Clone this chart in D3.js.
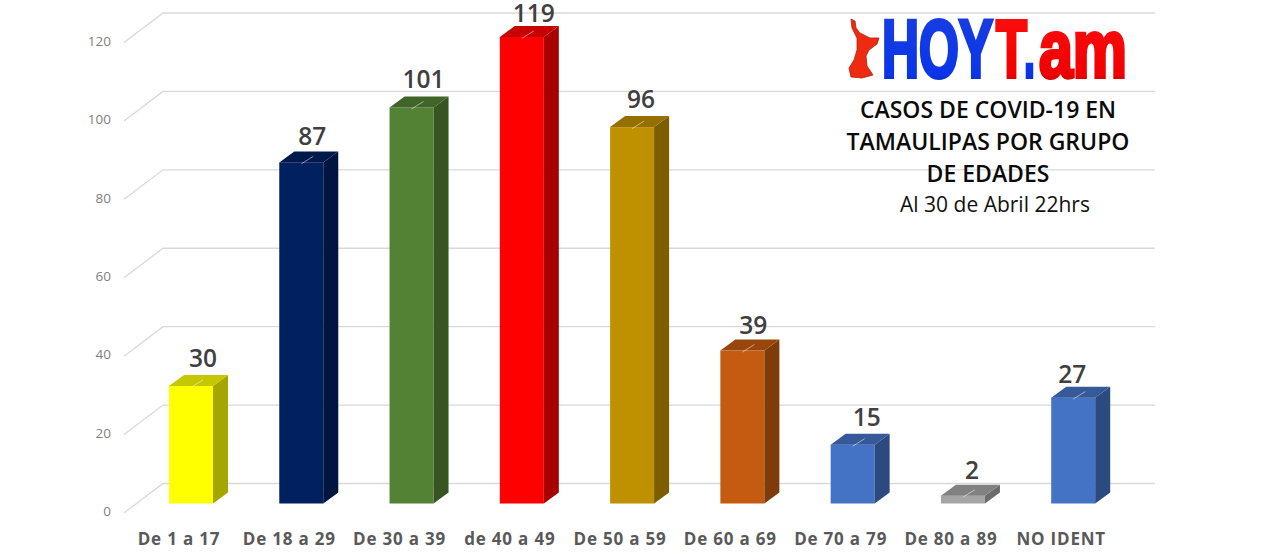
<!DOCTYPE html>
<html><head><meta charset="utf-8">
<script src="https://cdn.jsdelivr.net/npm/d3@7"></script>
<style>html,body{margin:0;padding:0;background:#fff;overflow:hidden}svg{display:block}</style>
</head><body><svg id="c" width="1280" height="554"></svg>
<script>
const categories=["De 1 a 17","De 18 a 29","De 30 a 39","de 40 a 49","De 50 a 59","De 60 a 69","De 70 a 79","De 80 a 89","NO IDENT"];
const values=[30,87,101,119,96,39,15,2,27];
const frontColors=["#ffff00","#002060","#548235","#ff0000","#bf9000","#c55a11","#4472c4","#a5a5a5","#4472c4"];
const yTicks=[0,20,40,60,80,100,120];
const titleLines=["CASOS DE COVID-19 EN","TAMAULIPAS POR GRUPO","DE EDADES"];
const subtitle="Al 30 de Abril 22hrs";

const svg=d3.select("#c");
const font="'Open Sans',sans-serif";
const y=d3.scaleLinear().domain([0,120]).range([503.5,33]);
const x=d3.scalePoint().domain(categories).range([191,1073.2]);
const barW=44, dx=15, dy=-11, wallDy=-20;

// back wall gridlines and floor diagonals
const grid=svg.append("g").attr("stroke","#d9d9d9").attr("stroke-width",1.3).attr("fill","none");
yTicks.forEach(t=>{
  const w=y(t)+wallDy;
  grid.append("path").attr("d",`M124,${w+29.5}L163,${w}L1155,${w}`);
});

// y axis
const axis=svg.append("g").attr("transform","translate(111,8)")
  .call(d3.axisLeft(y).tickValues(yTicks).tickSize(0).tickPadding(0));
axis.select(".domain").remove();
axis.selectAll("text").attr("font-family",font).attr("font-size",13.5).attr("fill","#7f7f7f");

// bars
const bars=svg.append("g").selectAll("g").data(values).join("g");
const shade=(c,k)=>d3.rgb(c).darker(k).formatHex();
bars.each(function(v,i){
  const g=d3.select(this), l=x(categories[i])-barW/2, r=l+barW, t=y(v), b=y(0), c=frontColors[i];
  g.append("rect").attr("x",l).attr("y",t).attr("width",barW).attr("height",b-t).attr("fill",c);
  g.append("path").attr("d",`M${r},${b}L${r+dx},${b+dy}L${r+dx},${t+dy}L${r},${t}Z`).attr("fill",shade(c,1.2));
  g.append("path").attr("d",`M${l},${t}L${l+dx},${t+dy}L${r+dx},${t+dy}L${r},${t}Z`).attr("fill",shade(c,0.7));
  g.append("line").attr("x1",l+barW/2).attr("y1",t+1.5).attr("x2",l+barW/2+12).attr("y2",t-6)
    .attr("stroke","#fff").attr("stroke-opacity",0.5).attr("stroke-width",1);
});

// value labels: placed by hand in the original, so a small nudge for the ones that sit off the common spot
const labelNudge={27:[-13,4],39:[-1,2],15:[2,0],119:[0,4],87:[-1,2],96:[-3,0],2:[-3,2]};
svg.append("g").selectAll("text").data(values).join("text")
  .attr("x",(v,i)=>x(categories[i])+12+(labelNudge[v]?labelNudge[v][0]:0))
  .attr("y",v=>y(v)-19+(labelNudge[v]?labelNudge[v][1]:0))
  .attr("text-anchor","middle").attr("font-family",font).attr("font-size",24.5).attr("font-weight",600)
  .attr("fill","#404040").text(v=>v);

// category labels
svg.append("g").selectAll("text").data(categories).join("text")
  .attr("x",c=>x(c)-12).attr("y",544.5).attr("text-anchor","middle")
  .attr("font-family",font).attr("font-size",17).attr("font-weight",700).attr("letter-spacing",0.8)
  .attr("fill","#595959").text(c=>c);

// logo
const defs=svg.append("defs");
const grad=(id,top,mid,bot)=>{const g=defs.append("linearGradient").attr("id",id).attr("x1",0).attr("x2",0).attr("y1",0).attr("y2",1);
  g.append("stop").attr("offset","0").attr("stop-color",top);
  g.append("stop").attr("offset","0.78").attr("stop-color",mid);
  g.append("stop").attr("offset","1").attr("stop-color",bot);};
grad("gb","#1a3fe0","#0a35e8","#0a1f90");
grad("gr","#ff1010","#f00000","#900000");
svg.append("path").attr("fill","#ee2a10").attr("stroke","#b02010").attr("stroke-width",0.8)
  .attr("d","M851,19L855,21L856,28L860,33L870,38L879,38L877,44L869,50L866,56L867,66L873,75L862,78L851,77L849,68L854,60L857,50L857,38L852,28Z");
const logo=svg.append("text").attr("y",77).attr("font-size",81)
  .attr("font-family","'Liberation Sans Narrow','Liberation Sans',sans-serif").attr("font-weight",700);
const logoPart=(txt,x0,w,fill)=>logo.append("tspan").attr("x",x0)
  .attr("textLength",w).attr("lengthAdjust","spacingAndGlyphs").attr("fill",`url(#${fill})`)
  .attr("stroke",`url(#${fill})`).attr("stroke-width",4).attr("paint-order","stroke").text(txt);
logoPart("HOY",882,111,"gb");
logoPart("T",996,31,"gr");
logoPart(".",1024,11,"gb");
logoPart("am",1039,88,"gr");

// title
svg.append("g").selectAll("text").data(titleLines).join("text")
  .attr("x",988).attr("y",(d,i)=>118+i*32).attr("text-anchor","middle")
  .attr("font-family",font).attr("font-size",23).attr("font-weight",600).attr("fill","#0a0a0a").text(d=>d);
svg.append("text").attr("x",995).attr("y",212).attr("text-anchor","middle")
  .attr("font-family",font).attr("font-size",21).attr("fill","#111").text(subtitle);
</script></body></html>
